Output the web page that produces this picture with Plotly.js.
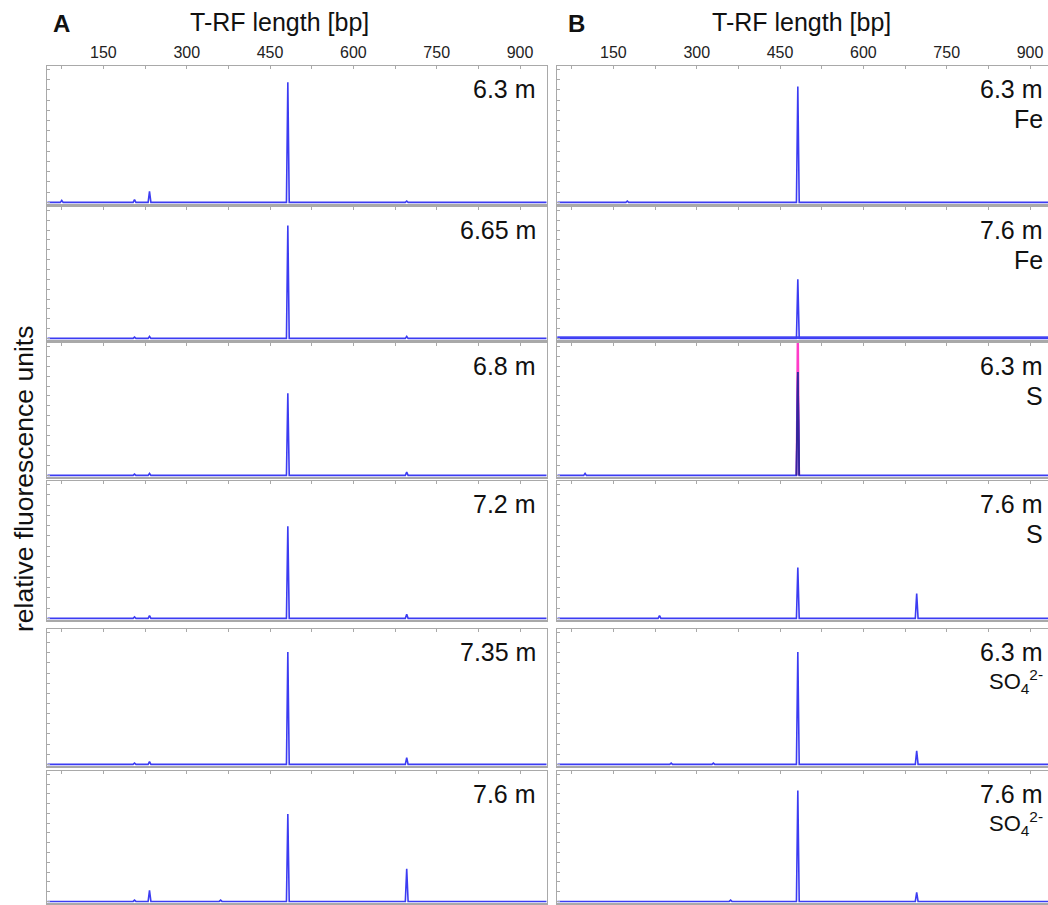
<!DOCTYPE html>
<html>
<head>
<meta charset="utf-8">
<script src="https://cdn.plot.ly/plotly-3.0.1.min.js"></script>
<style>
  html, body { margin: 0; padding: 0; background: #ffffff; overflow: hidden; }
  #plot { width: 1048px; height: 905px; }
</style>
</head>
<body>
<div id="plot"></div>
<script>
// T-RF sizes (bp) at which peaks occur in the electropherograms
const trfSizes = [75, 99, 175, 206, 233, 254, 330, 361, 482, 696];

// Relative peak heights (fraction of panel height), column A: depth profile
const depthA = ['6.3 m', '6.65 m', '6.8 m', '7.2 m', '7.35 m', '7.6 m'];
const A_6_30 = [0.015, 0, 0, 0.02, 0.08, 0, 0, 0, 0.88, 0.01];
const A_6_65 = [0, 0, 0, 0.01, 0.015, 0, 0, 0, 0.86, 0.015];
const A_6_80 = [0, 0, 0, 0.01, 0.015, 0, 0, 0, 0.62, 0.025];
const A_7_20 = [0, 0, 0, 0.01, 0.02, 0, 0, 0, 0.67, 0.03];
const A_7_35 = [0, 0, 0, 0.01, 0.02, 0, 0, 0, 0.83, 0.05];
const A_7_60 = [0, 0, 0, 0.01, 0.085, 0, 0, 0.01, 0.67, 0.25];

// Column B: enrichments (depth + electron acceptor)
const depthB = ['6.3 m', '7.6 m', '6.3 m', '7.6 m', '6.3 m', '7.6 m'];
const acceptorB = ['Fe', 'Fe', 'S', 'S', 'SO<sub>4</sub><sup>2-</sup>', 'SO<sub>4</sub><sup>2-</sup>'];
const B_Fe_63 = [0, 0, 0.01, 0, 0, 0, 0, 0, 0.85, 0];
const B_Fe_76 = [0, 0, 0, 0, 0, 0, 0, 0, 0.45, 0];
const B_S_63 = [0, 0.015, 0, 0, 0, 0, 0, 0, 0.78, 0];
// second and third dye channels of the 6.3 m S sample (peak only)
const B_S_63_red = [0, 0, 0, 0, 0, 0, 0, 0, 1.3, 0];
const B_S_63_dark = [0, 0, 0, 0, 0, 0, 0, 0, 0.78, 0];
const B_S_76 = [0, 0, 0, 0, 0.02, 0, 0, 0, 0.37, 0.18];
const B_SO4_63 = [0, 0, 0, 0, 0, 0.01, 0.01, 0, 0.83, 0.1];
const B_SO4_76 = [0, 0, 0, 0, 0, 0, 0, 0.01, 0.85, 0.07];

// Axis tick labels
const tickLabels = [150, 300, 450, 600, 750, 900];

const seriesA = [A_6_30, A_6_65, A_6_80, A_7_20, A_7_35, A_7_60];
const seriesB = [B_Fe_63, B_Fe_76, B_S_63, B_S_76, B_SO4_63, B_SO4_76];

const W = 1048, H = 905;
const rangeA = [49, 948];
const rangeB = [49, 932.4];
const domA = [47.3 / W, 546.7 / W];
const domB = [557.3 / W, 1];
// pixel rows of the six stacked panels (top, bottom)
const rowTop = [66, 207, 343, 481, 629, 771];
const rowBottom = [204, 340, 477, 620, 766, 903];

const BLUE = '#3c3cf2';
const MAGENTA = '#ff3cc8';
const DARK = '#35279a';
const FRAME = '#a9a9a9';
const FONT = 'Liberation Sans, Arial, Helvetica, sans-serif';

// Spike trace along the whole axis (baseline + peaks)
function spikes(heights, range) {
  const x = [range[0]], y = [0];
  const half = 2.5;
  trfSizes.forEach((s, i) => {
    const h = heights[i];
    if (h > 0) {
      x.push(s - half, s, s + half);
      y.push(0, h, 0);
    }
  });
  x.push(range[1]); y.push(0);
  return { x, y };
}

// Peaks only, separated by gaps (no baseline)
function peaksOnly(heights) {
  const x = [], y = [];
  const half = 2.5;
  trfSizes.forEach((s, i) => {
    const h = heights[i];
    if (h > 0) {
      x.push(s - half, s, s + half, null);
      y.push(0, h, 0, null);
    }
  });
  return { x, y };
}

const data = [];
const layout = {
  width: W, height: H,
  margin: { l: 0, r: 0, t: 0, b: 0 },
  paper_bgcolor: '#ffffff',
  plot_bgcolor: '#ffffff',
  showlegend: false,
  font: { family: FONT, color: '#111111' },
  annotations: [],
  shapes: []
};

function yDomain(row) {
  return [1 - rowBottom[row] / H, 1 - rowTop[row] / H];
}

function addPanel(idx, row, range, xdom, showLabels) {
  const xa = 'xaxis' + (idx === 1 ? '' : idx);
  const ya = 'yaxis' + (idx === 1 ? '' : idx);
  const xr = 'x' + (idx === 1 ? '' : idx);
  const yr = 'y' + (idx === 1 ? '' : idx);
  layout[xa] = {
    domain: xdom, range: range, anchor: yr, side: 'top',
    showline: true, linecolor: FRAME, linewidth: 1.5, mirror: true,
    showgrid: false, zeroline: false,
    tickmode: 'array', tickvals: tickLabels, ticktext: tickLabels.map(String),
    ticks: 'inside', ticklen: 3, tickcolor: FRAME, tickwidth: 1,
    minor: { tickmode: 'linear', tick0: 0, dtick: 75, ticks: 'inside', ticklen: 3, tickcolor: FRAME },
    showticklabels: showLabels,
    tickfont: { family: FONT, size: 16, color: '#222222' },
    fixedrange: true
  };
  layout[ya] = {
    domain: yDomain(row), range: [-0.012, 1], anchor: xr,
    showline: true, linecolor: FRAME, linewidth: 1.5, mirror: true,
    showgrid: false, zeroline: false,
    tick0: 0, dtick: 0.075, ticks: 'inside', ticklen: 3, tickcolor: FRAME,
    showticklabels: false, fixedrange: true
  };
  return { xr, yr };
}

// Column A
seriesA.forEach((s, row) => {
  const idx = row + 1;
  const { xr, yr } = addPanel(idx, row, rangeA, domA, row === 0);
  const t = spikes(s, rangeA);
  data.push({ type: 'scatter', mode: 'lines', x: t.x, y: t.y, xaxis: xr, yaxis: yr,
    line: { color: BLUE, width: 1.6 }, hoverinfo: 'skip' });
  layout.annotations.push({
    xref: xr + ' domain', yref: yr + ' domain', x: 1, y: 1, xanchor: 'right', yanchor: 'middle',
    xshift: -9, yshift: -23, text: depthA[row], showarrow: false,
    font: { family: FONT, size: 25, color: '#111111' }
  });
});

// Column B
seriesB.forEach((s, row) => {
  const idx = row + 7;
  const { xr, yr } = addPanel(idx, row, rangeB, domB, row === 0);
  if (row === 2) {
    const r = peaksOnly(B_S_63_red);
    data.push({ type: 'scatter', mode: 'lines', x: r.x, y: r.y, xaxis: xr, yaxis: yr,
      line: { color: MAGENTA, width: 1.8 }, hoverinfo: 'skip' });
  }
  if (row === 1) {
    // thicker baseline of the 7.6 m Fe run
    layout.shapes.push({ type: 'line', layer: 'below', xref: xr + ' domain', x0: 0, x1: 1,
      yref: yr, y0: 0.006, y1: 0.006, line: { color: '#4a4af6', width: 2.6 } });
  }
  const t = spikes(s, rangeB);
  data.push({ type: 'scatter', mode: 'lines', x: t.x, y: t.y, xaxis: xr, yaxis: yr,
    line: { color: BLUE, width: 1.6 }, hoverinfo: 'skip' });
  if (row === 2) {
    const d = peaksOnly(B_S_63_dark);
    data.push({ type: 'scatter', mode: 'lines', x: d.x, y: d.y, xaxis: xr, yaxis: yr,
      line: { color: DARK, width: 1.8 }, hoverinfo: 'skip' });
  }
  layout.annotations.push({
    xref: xr + ' domain', yref: yr + ' domain', x: 1, y: 1, xanchor: 'right', yanchor: 'middle',
    xshift: -3, yshift: -23, text: depthB[row], showarrow: false,
    font: { family: FONT, size: 25, color: '#111111' }
  });
  const small = row >= 4;
  layout.annotations.push({
    xref: xr + ' domain', yref: yr + ' domain', x: 1, y: 1, xanchor: 'right', yanchor: 'middle',
    xshift: -3, yshift: small ? -52 : -53, text: acceptorB[row], showarrow: false,
    font: { family: FONT, size: small ? 22 : 25, color: '#111111' }
  });
});

// Column headers and shared axis titles
const paperAnn = (x, y, text, size, extra) => Object.assign({
  xref: 'paper', yref: 'paper', x: x / W, y: 1 - y / H, xanchor: 'center', yanchor: 'middle',
  text: text, showarrow: false, font: { family: FONT, size: size, color: '#111111' }
}, extra || {});
layout.annotations.push(paperAnn(61.7, 23, '<b>A</b>', 24));
layout.annotations.push(paperAnn(576.7, 23, '<b>B</b>', 24));
layout.annotations.push(paperAnn(279, 22, 'T-RF length [bp]', 25));
layout.annotations.push(paperAnn(801.5, 22, 'T-RF length [bp]', 25));
layout.annotations.push(paperAnn(24, 479, 'relative fluorescence units', 26.5, { textangle: -90 }));

Plotly.newPlot('plot', data, layout, { staticPlot: true, displayModeBar: false });
</script>
</body>
</html>
